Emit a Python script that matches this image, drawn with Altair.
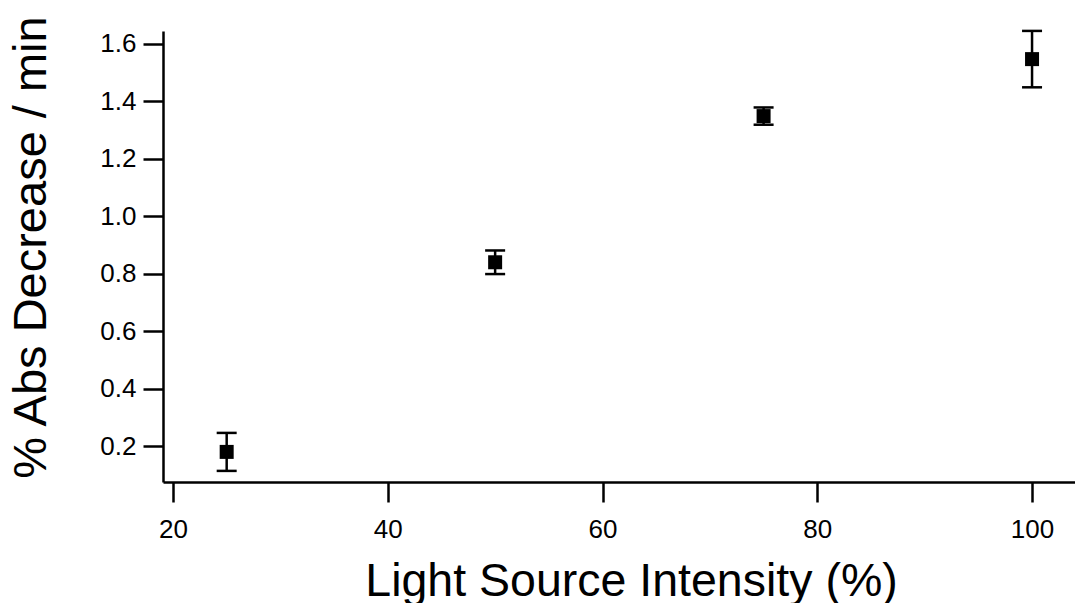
import altair as alt
import pandas as pd

# Data
intensity = [25, 50, 75, 100]
abs_decrease = [0.181, 0.840, 1.348, 1.546]
error = [0.066, 0.041, 0.030, 0.098]

tick_x = [20, 40, 60, 80, 100]
tick_y = [0.2, 0.4, 0.6, 0.8, 1.0, 1.2, 1.4, 1.6]

df = pd.DataFrame({"x": intensity, "y": abs_decrease, "err": error})

FONT = "Liberation Sans"

xscale = alt.Scale(domain=[19.07, 104.0], nice=False, zero=False)
yscale = alt.Scale(domain=[0.0764, 1.6437], nice=False, zero=False)

xaxis = alt.Axis(
    values=tick_x,
    title="Light Source Intensity (%)",
    titleFontSize=46.5,
    titleFont=FONT,
    titleFontWeight="normal",
    titleColor="black",
    titleX=468,
    titleY=113,
    titleAlign="center",
    titleBaseline="alphabetic",
    labelFontSize=26,
    labelFont=FONT,
    labelColor="black",
    labelPadding=14,
    tickSize=20,
    tickWidth=2.5,
    tickColor="black",
    domainColor="black",
    domainWidth=2.5,
    grid=False,
)

yaxis = alt.Axis(
    values=tick_y,
    format=".1f",
    title="% Abs Decrease / min",
    titleFontSize=47,
    titleFont=FONT,
    titleFontWeight="normal",
    titleColor="black",
    titleX=-108,
    titleY=216,
    titleAngle=270,
    titleAlign="center",
    titleBaseline="bottom",
    labelFontSize=26,
    labelFont=FONT,
    labelColor="black",
    labelPadding=7,
    tickSize=20,
    tickWidth=2.5,
    tickColor="black",
    domainColor="black",
    domainWidth=2.5,
    grid=False,
)

base = alt.Chart(df).transform_calculate(
    lo="datum.y - datum.err", hi="datum.y + datum.err"
)

bars = base.mark_rule(color="black", strokeWidth=2.5).encode(
    x=alt.X("x:Q", scale=xscale, axis=xaxis),
    y=alt.Y("lo:Q", scale=yscale, axis=yaxis),
    y2="hi:Q",
)

cap_hi = base.mark_tick(orient="horizontal", size=20, thickness=2.5, color="black", opacity=1).encode(
    x=alt.X("x:Q", scale=xscale),
    y=alt.Y("hi:Q", scale=yscale),
)
cap_lo = base.mark_tick(orient="horizontal", size=20, thickness=2.5, color="black", opacity=1).encode(
    x=alt.X("x:Q", scale=xscale),
    y=alt.Y("lo:Q", scale=yscale),
)

pts = base.mark_square(size=196, color="black", filled=True, opacity=1).encode(
    x=alt.X("x:Q", scale=xscale),
    y=alt.Y("y:Q", scale=yscale),
)

chart = (
    alt.layer(bars, cap_hi, cap_lo, pts)
    .properties(
        width=912,
        height=451,
        background="white",
        autosize=alt.AutoSizeParams(type="none"),
        padding={"left": 163, "top": 31, "right": 0, "bottom": 121},
    )
    .configure_view(strokeWidth=0, stroke="transparent")
    .configure_axis(grid=False)
)

chart.save("out.html", embed_options={"renderer": "svg", "actions": False})
